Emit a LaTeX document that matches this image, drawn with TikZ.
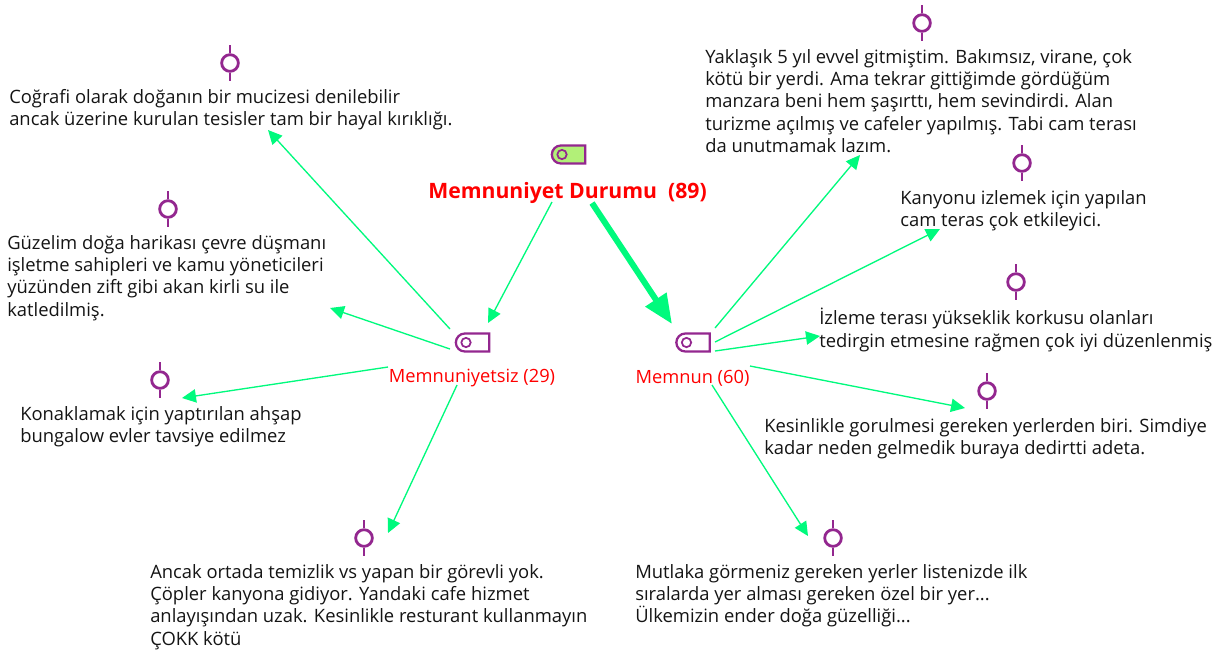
\documentclass[tikz,border=0pt]{standalone}
\usepackage{fontspec}
\setmainfont{Open Sans}
\usetikzlibrary{arrows.meta,shapes.misc}
\definecolor{linkgreen}{RGB}{0,250,125}
\definecolor{iconpurple}{RGB}{147,39,143}
\definecolor{tagfill}{RGB}{178,240,120}
\tikzset{
  body/.style={anchor=north west,align=left,inner sep=0pt,font=\fontsize{13.8}{16.75}\selectfont,text=black!92},
  caption/.style={inner sep=0pt,text=red,font=\fontsize{13.7}{16}\selectfont},
  bigcaption/.style={inner sep=0pt,text=red,font=\fontsize{15.9}{18}\selectfont\bfseries},
  link/.style={draw=linkgreen,line width=1pt,-{Triangle[length=10.5pt,width=10pt]}},
  biglink/.style={draw=linkgreen,line width=4.5pt,-{Triangle[length=22pt,width=18pt]}},
  tagbox/.style={rounded rectangle,rounded rectangle right arc=none,draw=iconpurple,line width=1.7pt,minimum width=25pt,minimum height=13.5pt,inner sep=0pt},
  taghole/.style={circle,draw=iconpurple,line width=1.3pt,minimum size=7pt,inner sep=0pt},
  quotering/.style={circle,draw=iconpurple,line width=2.1pt,minimum size=12.5pt,inner sep=0pt},
  quotestem/.style={draw=iconpurple,line width=2.1pt}
}
\newcommand{\quoteicon}[3]{%
  \node[quotering] (#1) at (#2,#3) {};
  \draw[quotestem] (#1.north) -- ++(0,-8);
  \draw[quotestem] (#1.south) -- ++(0,8);
}
\newcommand{\tagicon}[4]{%
  \node[tagbox,#4] (#1) at (#2,#3) {};
  \node[taghole] (#1h) at (#2-6.5,#3) {};
}
\begin{document}
\begin{tikzpicture}[x=0.75pt,y=-0.75pt]
\useasboundingbox (0,0) rectangle (1223,651);
% tag icons
\tagicon{rooticon}{568.5}{154.5}{fill=tagfill}
\tagicon{negicon}{472.5}{342.5}{}
\tagicon{posicon}{693}{342.5}{}
% captions
\node[bigcaption] (root) at (567.5,193) {Memnuniyet Durumu\ \ (89)};
\node[caption] (neg) at (472,378) {Memnuniyetsiz (29)};
\node[caption] (pos) at (692.5,378) {Memnun (60)};
% quote icons
\quoteicon{q1}{230}{63}
\quoteicon{q2}{168}{209}
\quoteicon{q3}{160}{380}
\quoteicon{q4}{364}{538}
\quoteicon{q5}{922}{23}
\quoteicon{q6}{1022}{163}
\quoteicon{q7}{1016}{282}
\quoteicon{q8}{987}{391}
\quoteicon{q9}{833}{538}
% texts
\node[body] (t1) at (9,89) {Coğrafi olarak doğanın bir mucizesi denilebilir\\ancak üzerine kurulan tesisler tam bir hayal kırıklığı.};
\node[body] (t2) at (7,235) {Güzelim doğa harikası çevre düşmanı\\işletme sahipleri ve kamu yöneticileri\\yüzünden zift gibi akan kirli su ile\\katledilmiş.};
\node[body] (t3) at (20,406) {Konaklamak için yaptırılan ahşap\\bungalow evler tavsiye edilmez};
\node[body] (t4) at (150,564) {Ancak ortada temizlik vs yapan bir görevli yok.\\Çöpler kanyona gidiyor. Yandaki cafe hizmet\\anlayışından uzak. Kesinlikle resturant kullanmayın\\ÇOKK kötü};
\node[body] (t5) at (705,49) {Yaklaşık 5 yıl evvel gitmiştim. Bakımsız, virane, çok\\kötü bir yerdi. Ama tekrar gittiğimde gördüğüm\\manzara beni hem şaşırttı, hem sevindirdi. Alan\\turizme açılmış ve cafeler yapılmış. Tabi cam terası\\da unutmamak lazım.};
\node[body] (t6) at (900,190) {Kanyonu izlemek için yapılan\\cam teras çok etkileyici.};
\node[body] (t7) at (819,308) {İzleme terası yükseklik korkusu olanları\\tedirgin etmesine rağmen çok iyi düzenlenmiş};
\node[body] (t8) at (764,418) {Kesinlikle gorulmesi gereken yerlerden biri. Simdiye\\kadar neden gelmedik buraya dedirtti adeta.};
\node[body] (t9) at (635,564) {Mutlaka görmeniz gereken yerler listenizde ilk\\sıralarda yer alması gereken özel bir yer...\\Ülkemizin ender doğa güzelliği...};
% connector ends
\coordinate (a1s) at (552,202); \coordinate (a1e) at (488,323);
\coordinate (a2s) at (592,203); \coordinate (a2e) at (672,324);
\coordinate (b1s) at (450,329); \coordinate (b1e) at (268,130);
\coordinate (b2s) at (450,349); \coordinate (b2e) at (330,308);
\coordinate (b3s) at (388,367); \coordinate (b3e) at (182,398);
\coordinate (b4s) at (457,385); \coordinate (b4e) at (388,533);
\coordinate (c1s) at (715,328); \coordinate (c1e) at (860,155);
\coordinate (c2s) at (715,342); \coordinate (c2e) at (940,229);
\coordinate (c3s) at (715,351); \coordinate (c3e) at (820,336);
\coordinate (c4s) at (750,366); \coordinate (c4e) at (965,408);
\coordinate (c5s) at (712,385); \coordinate (c5e) at (808,536);
% connectors
\draw[link] (a1s) -- (a1e);
\draw[biglink] (a2s) -- (a2e);
\draw[link] (b1s) -- (b1e);
\draw[link] (b2s) -- (b2e);
\draw[link] (b3s) -- (b3e);
\draw[link] (b4s) -- (b4e);
\draw[link] (c1s) -- (c1e);
\draw[link] (c2s) -- (c2e);
\draw[link] (c3s) -- (c3e);
\draw[link] (c4s) -- (c4e);
\draw[link] (c5s) -- (c5e);
\end{tikzpicture}
\end{document}
